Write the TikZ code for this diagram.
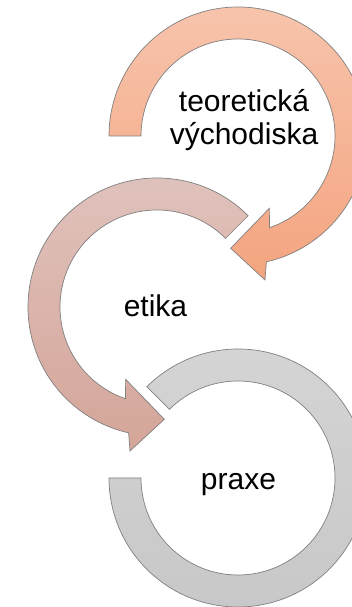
\documentclass[tikz,border=0pt]{standalone}
\usepackage{fontspec}
\setmainfont{Liberation Sans}
\begin{document}
\begin{tikzpicture}[x=1pt,y=1pt,
  ring/.style={draw=black!50, line width=0.7pt, line join=miter},
  lbl/.style={font=\fontsize{30}{33}\selectfont, text=black, anchor=base, align=center, inner sep=0pt}]
\definecolor{orTop}{HTML}{F7C4AC}
\definecolor{orBot}{HTML}{F4A47F}
\definecolor{pkTop}{HTML}{E0C3BD}
\definecolor{pkBot}{HTML}{D5A599}
\definecolor{grTop}{HTML}{D4D4D4}
\definecolor{grBot}{HTML}{C8C8C8}
\useasboundingbox (0,0) rectangle (352,607);
\clip (0,0) rectangle (352,607);
% orange arrow
\begin{scope}[shift={(238,471)}]
\path[ring, top color=orTop, bottom color=orBot]
  (180:129) arc[start angle=180, end angle=-77.3, radius=129]
  -- (27,-144) -- (-7.3,-112.3) -- (31.3,-72.3)
  -- (-71:97) arc[start angle=-71, end angle=180, radius=97] -- cycle;
\end{scope}
% pink arrow
\begin{scope}[shift={(157,300)}]
\path[ring, top color=pkTop, bottom color=pkBot]
  (45:129) arc[start angle=45, end angle=257.3, radius=129]
  -- (-27,-144) -- (7.3,-112.3) -- (-31.3,-72.3)
  -- (251:97) arc[start angle=251, end angle=45, radius=97] -- cycle;
\end{scope}
% gray ring
\begin{scope}[shift={(238,129)}]
\path[ring, top color=grTop, bottom color=grBot]
  (180:129) arc[start angle=180, end angle=495, radius=129]
  -- (135:97) arc[start angle=495, end angle=180, radius=97] -- cycle;
\end{scope}
\node[lbl] (t1) at (244,462) {teoretická\\východiska};
\node[lbl] (t2) at (155.5,290) {etika};
\node[lbl] (t3) at (238.5,117) {praxe};
\end{tikzpicture}
\end{document}
